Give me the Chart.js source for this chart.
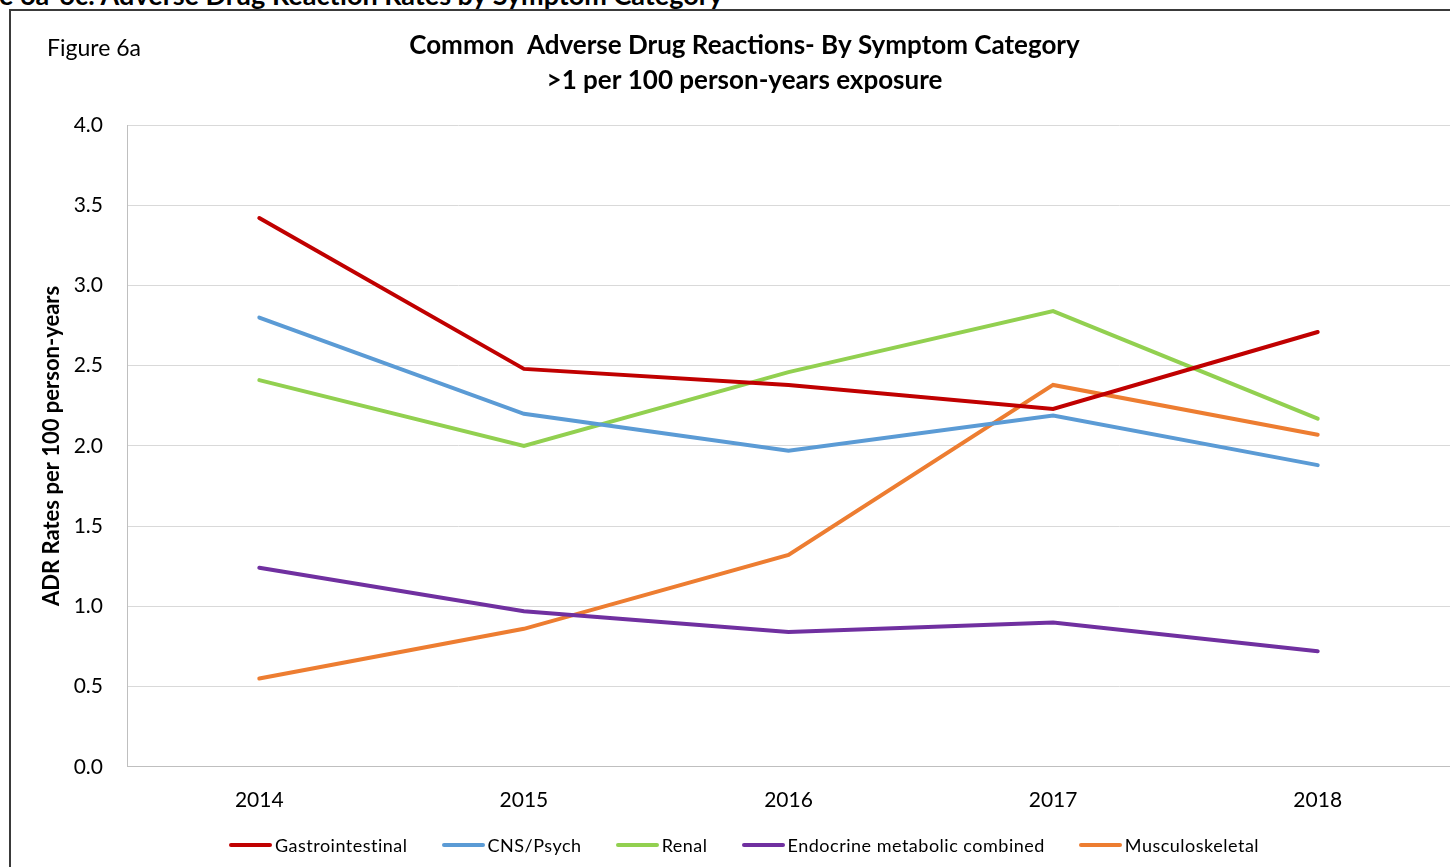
<!DOCTYPE html>
<html>
<head>
<meta charset="utf-8">
<script src="https://cdn.jsdelivr.net/npm/chart.js@4/dist/chart.umd.min.js"></script>
<style>
  html, body { margin: 0; padding: 0; background: #fff; overflow: hidden; width: 1450px; height: 867px; }
  #heading { position: absolute; left: 723px; top: -18px; transform: translateX(-100%); white-space: nowrap;
    font: bold 27px/26px Lato, sans-serif; color: #000; }
  #frame { position: absolute; left: 9px; top: 9px; width: 1480px; height: 900px; border: 2px solid #3a3a3a; box-sizing: border-box; }
  #figLabel { position: absolute; left: 47px; top: 33px; font: 23px Lato, sans-serif; color: #000; }
  #wrap { position: absolute; left: 11px; top: 11px; width: 1464px; height: 833px; }
  #legend { position: absolute; left: 0; top: 834px; width: 1488px; display: flex; justify-content: center;
    font: 18px Lato, sans-serif; letter-spacing: 0.5px; color: #000; }
  #legend .item { display: flex; align-items: center; margin: 0 17px; white-space: nowrap; line-height: 22px; }
  #legend .swatch { width: 43px; height: 4px; border-radius: 2px; margin-right: 3px; }
</style>
</head>
<body>
<div id="heading">Figure 6a-6c: Adverse Drug Reaction Rates by Symptom Category</div>
<div id="frame"></div>
<div id="wrap"><canvas id="myChart"></canvas></div>
<div id="figLabel">Figure 6a</div>
<div id="legend"></div>
<script>
const years = ["2014", "2015", "2016", "2017", "2018"];
const gastrointestinal = [3.42, 2.48, 2.38, 2.23, 2.71];
const cnsPsych = [2.80, 2.20, 1.97, 2.19, 1.88];
const renal = [2.41, 2.00, 2.46, 2.84, 2.17];
const endocrine = [1.24, 0.97, 0.84, 0.90, 0.72];
const musculoskeletal = [0.55, 0.86, 1.32, 2.38, 2.07];

const font = "Lato, sans-serif";

const makeSet = (label, data, color) => ({
  label,
  data,
  borderColor: color,
  backgroundColor: color,
  borderWidth: 4,
  pointRadius: 0,
  tension: 0,
  borderCapStyle: "round",
});

const ctx = document.getElementById("myChart").getContext("2d");
const myChart = new Chart(ctx, {
  type: "line",
  data: {
    labels: years,
    datasets: [
      makeSet("Gastrointestinal", gastrointestinal, "#c00000"),
      makeSet("CNS/Psych", cnsPsych, "#5b9bd5"),
      makeSet("Renal", renal, "#92d050"),
      makeSet("Endocrine metabolic combined", endocrine, "#7030a0"),
      makeSet("Musculoskeletal", musculoskeletal, "#ed7d31"),
    ],
  },
  options: {
    responsive: true,
    maintainAspectRatio: false,
    animation: false,
    layout: { padding: { left: 28, right: 25, top: 10, bottom: 10 } },
    plugins: {
      title: {
        display: true,
        text: ["Common  Adverse Drug Reactions- By Symptom Category", ">1 per 100 person-years exposure"],
        color: "#000",
        font: { family: font, size: 26, weight: "bold", lineHeight: "35px" },
        padding: { top: 7.5, bottom: 26.5 },
      },
      legend: { display: false },
      tooltip: { enabled: false },
    },
    scales: {
      x: {
        offset: true,
        grid: { display: false, drawTicks: false },
        border: { color: "#bfbfbf", width: 1 },
        ticks: { color: "#000", font: { family: font, size: 21 }, padding: 21 },
      },
      y: {
        min: 0,
        max: 4,
        grid: { color: "#d9d9d9", drawTicks: false },
        border: { color: "#bfbfbf", width: 1 },
        ticks: {
          stepSize: 0.5,
          color: "#000",
          font: { family: font, size: 21 },
          padding: 24,
          callback: (v) => v.toFixed(1),
        },
        title: {
          display: true,
          text: "ADR Rates per 100 person-years",
          color: "#000",
          font: { family: font, size: 22, weight: "bold" },
          padding: { top: 0, bottom: 6 },
        },
        // fixed axis width so the plot starts where the labels need it
        afterFit: (scale) => {
          scale.width = 88;
        },
      },
    },
  },
});

// html legend from the datasets
const legendEl = document.getElementById("legend");
myChart.data.datasets.forEach((ds) => {
  const item = document.createElement("div");
  item.className = "item";
  const swatch = document.createElement("span");
  swatch.className = "swatch";
  swatch.style.background = ds.borderColor;
  const text = document.createElement("span");
  text.innerText = ds.label;
  item.appendChild(swatch);
  item.appendChild(text);
  legendEl.appendChild(item);
});
</script>
</body>
</html>
